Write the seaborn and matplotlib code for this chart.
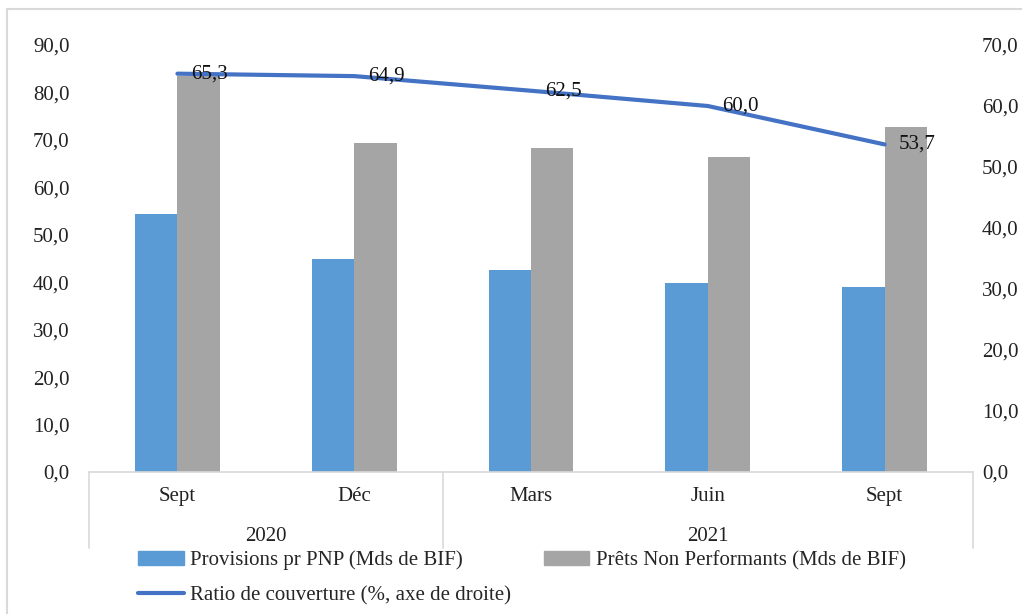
import matplotlib
matplotlib.use("Agg")
import matplotlib.pyplot as plt
import matplotlib.transforms as mtransforms
from matplotlib.lines import Line2D
from matplotlib.patches import Patch
import pandas as pd
import seaborn as sns

# data
months = ['Sept', 'Déc', 'Mars', 'Juin', 'Sept']
years = ['2020', '2020', '2021', '2021', '2021']
provisions = [54.4, 44.9, 42.6, 39.8, 39.0]
npl = [83.5, 69.3, 68.3, 66.4, 72.7]
ratio = [65.3, 64.9, 62.5, 60.0, 53.7]

lab_prov = 'Provisions pr PNP (Mds de BIF)'
lab_npl = 'Prêts Non Performants (Mds de BIF)'
lab_ratio = 'Ratio de couverture (%, axe de droite)'

blue = '#5B9BD5'
grey = '#A5A5A5'
line_blue = '#4472C4'
light = '#D9D9D9'

periods = [m + ' ' + y for m, y in zip(months, years)]
df = pd.DataFrame({'period': periods * 2,
                   'value': provisions + npl,
                   'serie': [lab_prov] * 5 + [lab_npl] * 5})
df_ratio = pd.DataFrame({'pos': range(len(periods)), 'ratio': ratio})

sns.set_theme(style='white')
plt.rcParams['font.family'] = ['Liberation Serif', 'DejaVu Serif']
fs = 15

fig = plt.figure(figsize=(10.22, 6.14), dpi=100)
ax = fig.add_axes([0.0871, 0.2313, 0.865, 0.6954])

sns.barplot(data=df, x='period', y='value', hue='serie', order=periods,
            palette=[blue, grey], width=0.48, gap=0, saturation=1,
            edgecolor='none', ax=ax, legend=False)
ax.set_xlim(-0.5, 4.5)
ax.set_ylim(0, 90)
ax.set_yticks(range(0, 91, 10))
ax.set_yticklabels([f'{v},0' for v in range(0, 91, 10)], fontsize=fs, color='#222222')
ax.set_xticks(range(5))
ax.set_xticklabels(months, fontsize=fs, color='#222222')
ax.tick_params(axis='y', length=0, pad=14)
ax.tick_params(axis='x', length=0, pad=11)
ax.set_xlabel('')
ax.set_ylabel('')
for s in ['top', 'left', 'right']:
    ax.spines[s].set_visible(False)
ax.spines['bottom'].set_color(light)
ax.spines['bottom'].set_linewidth(1.2)

# year grouping
trans = mtransforms.blended_transform_factory(ax.transData, ax.transAxes)
for xs in [-0.5, 1.5, 4.5]:
    ax.plot([xs, xs], [0, -0.178], color=light, lw=1.2, transform=trans, clip_on=False)
ax.text(0.5, -0.15, '2020', transform=trans, ha='center', va='center', fontsize=fs, color='#222222')
ax.text(3.0, -0.15, '2021', transform=trans, ha='center', va='center', fontsize=fs, color='#222222')

# ratio on right axis
ax2 = ax.twinx()
sns.lineplot(data=df_ratio, x='pos', y='ratio', color=line_blue, lw=3, ax=ax2)
ax2.set_ylim(0, 70)
ax2.set_yticks(range(0, 71, 10))
ax2.set_yticklabels([f'{v},0' for v in range(0, 71, 10)], fontsize=fs, color='#222222')
ax2.tick_params(axis='y', length=0, pad=6.5)
ax2.set_ylabel('')
ax2.set_xlabel('')
for s in ax2.spines.values():
    s.set_visible(False)
ax2.set_xlim(-0.5, 4.5)
for i, r in enumerate(ratio):
    ax2.annotate(f'{r:.1f}'.replace('.', ','), (i, r), xytext=(10, 0),
                 textcoords='offset points', ha='left', va='center',
                 fontsize=fs, color='#111111')

handles = [Patch(color=blue), Line2D([], [], color=line_blue, lw=3), Patch(color=grey)]
labels = [lab_prov, lab_ratio, lab_npl]
fig.legend(handles, labels, ncol=2, loc='upper left', bbox_to_anchor=(0.125, 0.120),
           frameon=False, fontsize=fs, handlelength=2.2, handleheight=0.7,
           handletextpad=0.3, columnspacing=1.55, labelspacing=0.72, borderpad=0)

# light frame around the chart
fig.add_artist(Line2D([0.007, 0.007], [0.0, 0.986], color=light, lw=1.5, transform=fig.transFigure))
fig.add_artist(Line2D([0.007, 1.0], [0.986, 0.986], color=light, lw=1.5, transform=fig.transFigure))

fig.savefig('out.png', dpi=100)
